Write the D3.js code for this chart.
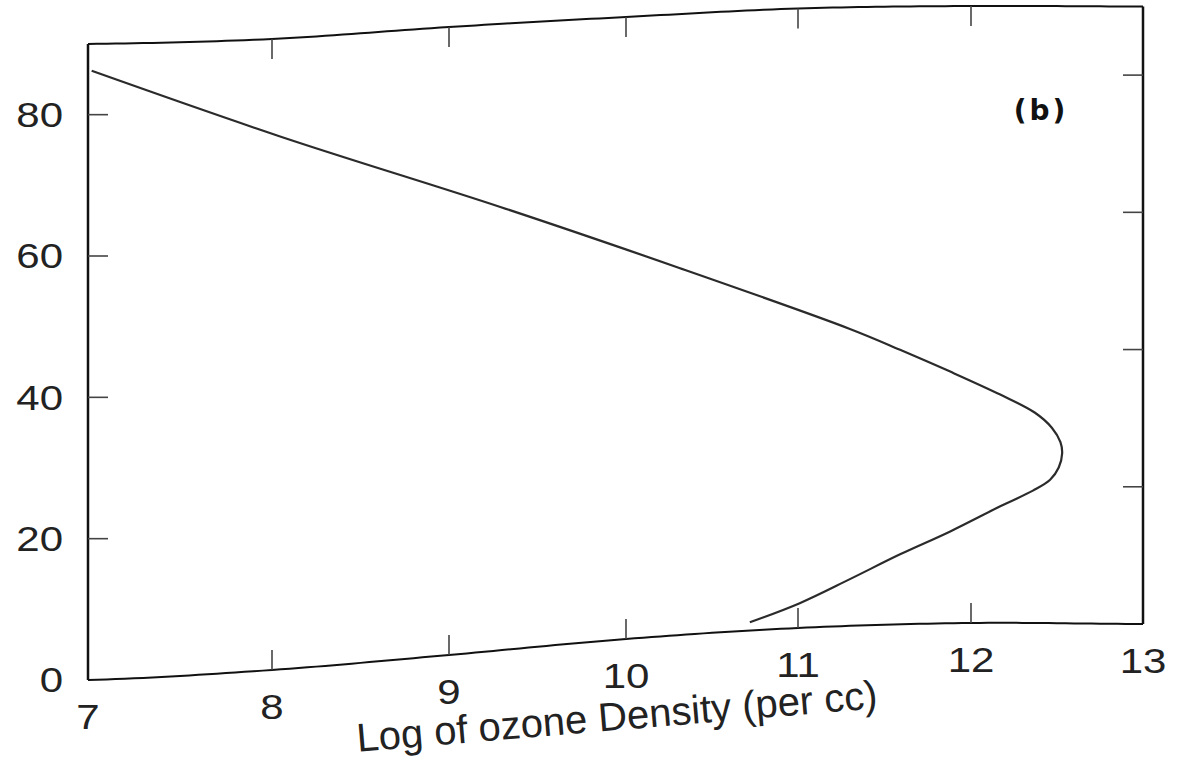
<!DOCTYPE html>
<html>
<head>
<meta charset="utf-8">
<script src="https://cdn.jsdelivr.net/npm/d3@7"></script>
<style>
  body { margin: 0; background: #fff; }
  svg { display: block; }
</style>
</head>
<body>
<div id="chart"></div>
<script>
// Data (ozone profile)
const altitude = [1.2, 3.6, 6.8, 10.2, 13.4, 17.0, 19.3, 20.9, 22.7, 24.8, 26.4, 28.5, 30.7, 33.3, 36.7, 40.0, 43.2, 53.2, 63.7, 76.0, 86.2]
const logDensity = [10.72, 11.01, 11.30, 11.59, 11.88, 12.17, 12.36, 12.46, 12.51, 12.53, 12.52, 12.47, 12.37, 12.17, 11.88, 11.59, 11.30, 10.31, 9.29, 8.05, 7.02]
const xTicks = [7, 8, 9, 10, 11, 12, 13]
const yTicks = [0, 20, 40, 60, 80]
const xTitle = 'Log of ozone Density (per cc)'
const panelLabel = '(b)'

// Dimensions
let dimensions = {
  width: 1180,
  height: 768,
  tick: 20,
  // the scanned page is warped: pixel column of each x tick, and the
  // height of the bottom / top frame edge above each of them
  tickX: [88, 272, 449, 626, 798, 971, 1143],
  bottomY: [680, 670, 655, 639, 628, 623, 624],
  topY: [44, 39, 27, 17, 8.5, 6, 6.5],
}

// Scales
const xScale = d3.scaleLinear()
  .domain(xTicks)
  .range(dimensions.tickX)
const yScale = d3.scaleLinear()
  .domain([0, 90])
  .range([0, 1])
const knot = d3.scaleLinear()
  .domain(d3.extent(xTicks))
  .range([0, xTicks.length - 1])
  .clamp(true)

// catmull-rom through the edge heights so the frame bends smoothly
function spline(p, v) {
  const n = p.length - 1
  const s = knot(v)
  const i = Math.min(n - 1, Math.floor(s)), t = s - i
  const p0 = p[Math.max(0, i - 1)], p1 = p[i], p2 = p[i + 1], p3 = p[Math.min(n, i + 2)]
  return 0.5 * (2 * p1 + (p2 - p0) * t
    + (2 * p0 - 5 * p1 + 4 * p2 - p3) * t * t
    + (3 * p1 - p0 - 3 * p2 + p3) * t * t * t)
}

const px = v => xScale(v)
const py = (v, a) => {
  const b = spline(dimensions.bottomY, v), t = spline(dimensions.topY, v)
  return b - yScale(a) * (b - t)
}

const svg = d3.select('#chart')
  .append('svg')
  .attr('width', dimensions.width)
  .attr('height', dimensions.height)

const ctr = svg.append('g')

// frame
const edge = d3.line().x(d => d[0]).y(d => d[1])
const samples = d3.range(7, 13.0001, 0.05)
const [x0, x1] = d3.extent(xTicks)
const [y0, y1] = yScale.domain()

ctr.append('path')
  .attr('d', edge(samples.map(v => [px(v), py(v, y0)])))
  .attr('fill', 'none').attr('stroke', '#111').attr('stroke-width', 2)
ctr.append('path')
  .attr('d', edge(samples.map(v => [px(v), py(v, y1)])))
  .attr('fill', 'none').attr('stroke', '#111').attr('stroke-width', 2)
ctr.append('path')
  .attr('d', edge([[px(x0), py(x0, y0)], [px(x0), py(x0, y1)]]))
  .attr('fill', 'none').attr('stroke', '#111').attr('stroke-width', 2.5)
ctr.append('path')
  .attr('d', edge([[px(x1), py(x1, y0)], [px(x1), py(x1, y1)]]))
  .attr('fill', 'none').attr('stroke', '#111').attr('stroke-width', 2.5)

// ticks
const inner = xTicks.slice(1, -1)
const innerY = yTicks.slice(1)
const ticks = ctr.append('g')
  .attr('stroke', '#444')
  .attr('stroke-width', 1.6)

ticks.selectAll('.bt').data(inner).join('line')
  .attr('x1', d => px(d)).attr('x2', d => px(d))
  .attr('y1', d => py(d, y0)).attr('y2', d => py(d, y0) - dimensions.tick)
ticks.selectAll('.tt').data(inner).join('line')
  .attr('x1', d => px(d)).attr('x2', d => px(d))
  .attr('y1', d => py(d, y1)).attr('y2', d => py(d, y1) + dimensions.tick)
ticks.selectAll('.lt').data(innerY).join('line')
  .attr('x1', px(x0)).attr('x2', px(x0) + dimensions.tick)
  .attr('y1', d => py(x0, d)).attr('y2', d => py(x0, d))
ticks.selectAll('.rt').data(innerY).join('line')
  .attr('x1', px(x1)).attr('x2', px(x1) - dimensions.tick)
  .attr('y1', d => py(x1, d)).attr('y2', d => py(x1, d))

// tick labels
const labels = ctr.append('g')
  .style('font-family', '"Liberation Sans", Arial, sans-serif')
  .style('font-size', '35px')
  .attr('fill', '#222')

labels.selectAll('.xl').data(xTicks).join('text')
  .attr('transform', d => `translate(${px(d)}, ${py(d, y0) + 37}) scale(1.2, 1)`)
  .attr('text-anchor', 'middle')
  .attr('dominant-baseline', 'central')
  .text(d => d)

labels.selectAll('.yl').data(yTicks).join('text')
  .attr('transform', d => `translate(63, ${py(x0, d)}) scale(1.2, 1)`)
  .attr('text-anchor', 'end')
  .attr('dominant-baseline', 'central')
  .text(d => d)

// axis title, tilted like the scan
ctr.append('text')
  .attr('transform', 'translate(618, 730) rotate(-4.8)')
  .attr('text-anchor', 'middle')
  .style('font-family', '"Liberation Sans", Arial, sans-serif')
  .style('font-size', '40px')
  .attr('fill', '#222')
  .text(xTitle)

ctr.append('text')
  .attr('x', 1041)
  .attr('y', 110)
  .attr('text-anchor', 'middle')
  .attr('dominant-baseline', 'central')
  .style('font-family', '"DejaVu Sans", sans-serif')
  .style('font-size', '28px')
  .style('font-weight', 'bold')
  .style('letter-spacing', '3px')
  .attr('fill', '#111')
  .text(panelLabel)

// profile curve
const profile = d3.line()
  .x((d, i) => px(logDensity[i]))
  .y((d, i) => py(logDensity[i], altitude[i]))
  .curve(d3.curveCatmullRom)

ctr.append('path')
  .attr('d', profile(altitude))
  .attr('fill', 'none')
  .attr('stroke', '#2b2b2b')
  .attr('stroke-width', 2.2)
</script>
</body>
</html>
